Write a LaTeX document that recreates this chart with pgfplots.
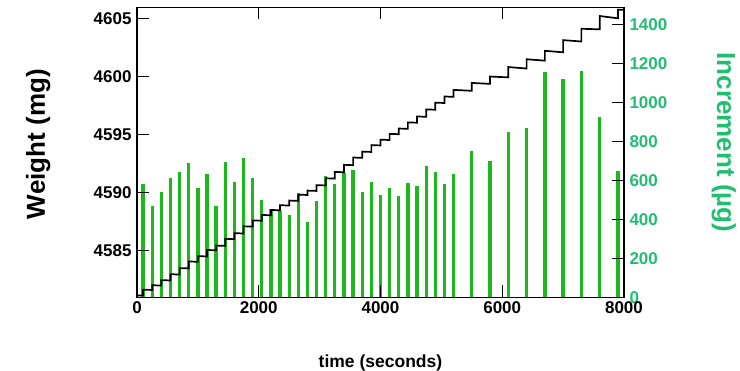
\documentclass[border=0pt]{standalone}
\usepackage{pgfplots}
\pgfplotsset{compat=1.18}
\usepackage{fontspec}
\setmainfont{Liberation Sans}
\definecolor{barcol}{RGB}{28,184,28}
\definecolor{labcol}{RGB}{32,190,112}
\begin{document}
\begin{tikzpicture}
% Increment bars (right axis)
\begin{axis}[
  scale only axis, width=487pt, height=290pt,
  at={(0pt,0pt)}, anchor=south west,
  xmin=0, xmax=8000,
  ymin=0, ymax=1490,
  clip=false,
  axis x line=none, axis y line*=right,
  ytick={0,200,...,1400},
  tick align=inside,
  major tick length=12pt,
  major tick style={line width=1.2pt, draw=black},
  axis line style={line width=1.2pt, black},
  /pgf/number format/1000 sep={},
  /pgf/number format/assume math mode=true,
  tick label style={font=\fontsize{17}{20}\selectfont\bfseries},
  yticklabel style={text=labcol, xshift=2pt},
  ylabel={Increment (µg)},
  ylabel style={font=\fontsize{26}{30}\selectfont\bfseries, text=labcol,
    at={(axis description cs:1.205,0.534)}, anchor=center, rotate=180},
]
\addplot[ycomb, draw=barcol, line width=3.3pt, mark=none] coordinates {
(100,582) (250,470) (400,539) (550,611) (700,642) (850,688) (1000,559)
(1150,633) (1300,470) (1450,693) (1600,594) (1750,714) (1900,614)
(2050,499) (2200,456) (2350,444) (2500,425) (2650,537) (2800,388)
(2950,496) (3100,624) (3250,580) (3400,637) (3550,654) (3700,542)
(3850,590) (4000,525) (4150,559) (4300,520) (4450,585) (4600,573)
(4750,676) (4900,643) (5050,583) (5200,633) (5500,753) (5800,700)
(6100,851) (6400,868) (6700,1155) (7000,1122) (7300,1163) (7600,928)
(7900,650)
};
\pgfplotsinvokeforeach{200,400,600,800,1000,1200,1400}{
  \draw[line width=1.2pt, black] (axis cs:8000,#1) -- ++(-12pt,0pt);
}
\end{axis}
% Weight line (left axis)
\begin{axis}[
  scale only axis, width=487pt, height=290pt,
  at={(0pt,0pt)}, anchor=south west,
  xmin=0, xmax=8000,
  ymin=4581, ymax=4606,
  clip=false,
  tick align=inside,
  major tick length=12pt,
  major tick style={line width=1.2pt, draw=black},
  axis line style={line width=1.2pt, black},
  /pgf/number format/1000 sep={},
  /pgf/number format/assume math mode=true,
  tick label style={font=\fontsize{17}{20}\selectfont\bfseries},
  xtick={0,2000,...,8000}, xtick pos=both, ytick pos=left,
  ytick={4585,4590,...,4605},
  yticklabel style={xshift=-2pt},
  xticklabel style={yshift=-1pt},
  xlabel={time (seconds)},
  xlabel style={font=\fontsize{17.5}{20}\selectfont\bfseries,
    at={(axis description cs:0.5,-0.228)}, anchor=center},
  ylabel={Weight (mg)},
  ylabel style={font=\fontsize{26}{30}\selectfont\bfseries,
    at={(axis description cs:-0.203,0.528)}, anchor=center},
]
\addplot[black, line width=1.7pt, mark=none] coordinates {
(0,4581.15) (100,4581.15) (100,4581.66) (250,4581.63) (250,4582.04) (400,4582.01)
(400,4582.48) (550,4582.45) (550,4582.99) (700,4582.96) (700,4583.52) (850,4583.49)
(850,4584.09) (1000,4584.06) (1000,4584.55) (1150,4584.52) (1150,4585.08) (1300,4585.05)
(1300,4585.46) (1450,4585.43) (1450,4586.04) (1600,4586.01) (1600,4586.53) (1750,4586.50)
(1750,4587.12) (1900,4587.09) (1900,4587.63) (2050,4587.60) (2050,4588.10) (2200,4588.07)
(2200,4588.53) (2350,4588.50) (2350,4588.94) (2500,4588.91) (2500,4589.34) (2650,4589.31)
(2650,4589.85) (2800,4589.82) (2800,4590.20) (2950,4590.17) (2950,4590.67) (3100,4590.64)
(3100,4591.26) (3250,4591.23) (3250,4591.81) (3400,4591.78) (3400,4592.42) (3550,4592.39)
(3550,4593.05) (3700,4593.02) (3700,4593.56) (3850,4593.53) (3850,4594.12) (4000,4594.09)
(4000,4594.59) (4150,4594.56) (4150,4595.09) (4300,4595.06) (4300,4595.55) (4450,4595.52)
(4450,4596.08) (4600,4596.05) (4600,4596.59) (4750,4596.56) (4750,4597.20) (4900,4597.17)
(4900,4597.78) (5050,4597.75) (5050,4598.31) (5200,4598.28) (5200,4598.88) (5500,4598.80)
(5500,4599.48) (5800,4599.40) (5800,4600.03) (6100,4599.96) (6100,4600.85) (6400,4600.72)
(6400,4601.52) (6700,4601.40) (6700,4602.25) (7000,4602.12) (7000,4603.17) (7300,4603.05)
(7300,4604.15) (7600,4604.10) (7600,4605.25) (7900,4605.05) (7900,4605.80) (8000,4605.78)
};
\pgfplotsinvokeforeach{4585,4590,4595,4600,4605}{
  \draw[line width=1.2pt, black] (axis cs:0,#1) -- ++(12pt,0pt);
}
\pgfplotsinvokeforeach{2000,4000,6000}{
  \draw[line width=1.2pt, black] (axis cs:#1,4581) -- ++(0pt,12pt);
  \draw[line width=1.2pt, black] (axis cs:#1,4606) -- ++(0pt,-12pt);
}
\end{axis}
\pgfresetboundingbox
\useasboundingbox (-137pt,-73.7pt) rectangle (603pt,297.3pt);
\end{tikzpicture}
\end{document}
